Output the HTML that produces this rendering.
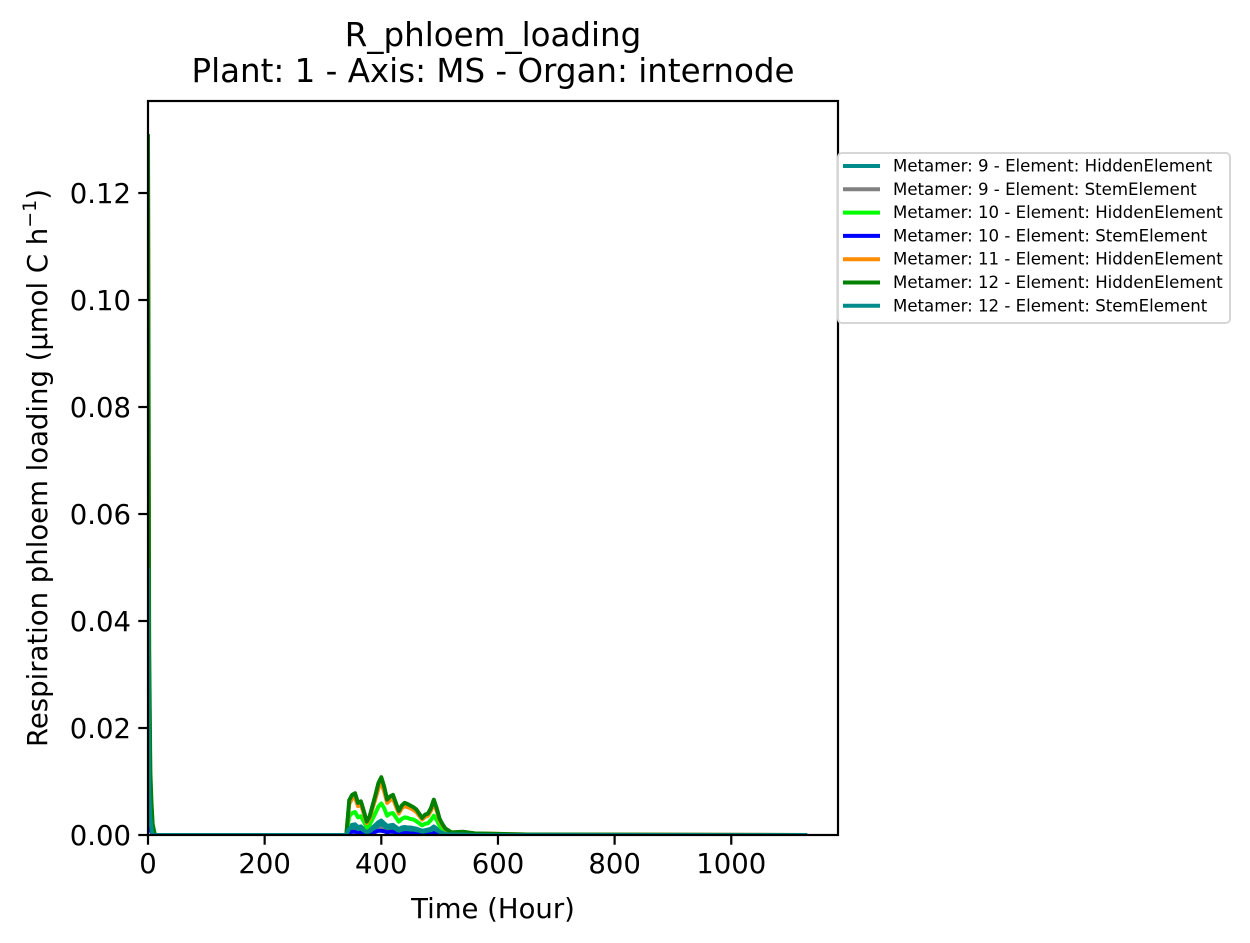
<!DOCTYPE html>
<html><head><meta charset="utf-8"><style>
html,body{margin:0;padding:0;background:#fff;}
svg{display:block;font-family:"DejaVu Sans","Liberation Sans",sans-serif;}
</style></head><body>
<svg id="chart" width="1250" height="943" viewBox="0 0 1250 943" xmlns="http://www.w3.org/2000/svg">
<rect width="1250" height="943" fill="#fff"/>
<text x="493" y="46" font-size="32.5" text-anchor="middle">R_phloem_loading</text>
<text x="493" y="82" font-size="32.5" text-anchor="middle">Plant: 1 - Axis: MS - Organ: internode</text>
<g id="series"></g>
<g id="axes"></g>
<text x="493" y="918" font-size="27.5" text-anchor="middle">Time (Hour)</text>
<text transform="translate(47,468) rotate(-90)" font-size="27.5" text-anchor="middle">Respiration phloem loading (μmol C h<tspan baseline-shift="super" font-size="19">−1</tspan>)</text>
<g id="legend"></g>
</svg>
<script>
const times=[0,2,4,6,8,12,340,345,350,355,360,365,370,375,380,385,390,395,400,405,410,415,420,425,430,435,440,445,450,455,460,465,470,475,480,485,490,495,500,505,510,520,540,560,600,650,1130];
const m9Hidden=[0.06,0.01,0.004,0.002,0,0,0,0.0016,0.0019,0.002,0.0015,0.0016,0.0011,0.0006,0.0009,0.0014,0.0019,0.0024,0.0027,0.0022,0.0017,0.0018,0.0019,0.0015,0.0011,0.0014,0.0015,0.0014,0.0014,0.0013,0.0012,0.001,0.0008,0.0009,0.001,0.0012,0.0016,0.0012,0.0008,0.0005,0.0003,0.0001,0.0001,0.0001,0,0,0];
const m9Stem=[0.03,0.005,0.002,0.001,0,0,0,0.0008,0.0009,0.001,0.0007,0.0008,0.0005,0.0003,0.0004,0.0007,0.0009,0.0012,0.0013,0.0011,0.0008,0.0009,0.0009,0.0007,0.0005,0.0007,0.0007,0.0007,0.0007,0.0006,0.0006,0.0005,0.0004,0.0004,0.0005,0.0006,0.0008,0.0006,0.0004,0.0002,0.0001,0,0,0,0,0,0];
const m10Hidden=[0.11,0.02,0.008,0.004,0.001,0,0,0.0035,0.0041,0.0043,0.0033,0.0035,0.0025,0.0014,0.0019,0.003,0.0041,0.0053,0.0059,0.005,0.0036,0.004,0.0041,0.0033,0.0025,0.003,0.0033,0.0032,0.003,0.0029,0.0026,0.0022,0.0018,0.0021,0.0022,0.0028,0.0036,0.0028,0.0017,0.0011,0.0007,0.0003,0.0003,0.0002,0.0001,0,0];
const m10Stem=[0.02,0.004,0.001,0.0005,0,0,0,0.0005,0.0006,0.0006,0.0005,0.0005,0.0004,0.0002,0.0003,0.0004,0.0006,0.0008,0.0008,0.0007,0.0005,0.0006,0.0006,0.0005,0.0004,0.0004,0.0005,0.0005,0.0004,0.0004,0.0004,0.0003,0.0003,0.0003,0.0003,0.0004,0.0005,0.0004,0.0002,0.0002,0.0001,0,0,0,0,0,0];
const m11Hidden=[0.125,0.03,0.01,0.005,0.001,0,0,0.0058,0.0068,0.007,0.0054,0.0057,0.004,0.0022,0.0031,0.005,0.0068,0.0087,0.0097,0.0081,0.006,0.0065,0.0068,0.0054,0.004,0.005,0.0054,0.0052,0.005,0.0047,0.0043,0.0036,0.0029,0.0034,0.0036,0.0045,0.0059,0.0045,0.0027,0.0018,0.0011,0.0004,0.0005,0.0003,0.0002,0.0001,0];
const m12Hidden=[0.131,0.035,0.012,0.006,0.002,0,0,0.0065,0.0075,0.0078,0.006,0.0063,0.0045,0.0025,0.0035,0.0055,0.0075,0.0097,0.0108,0.009,0.0066,0.0072,0.0075,0.006,0.0045,0.0055,0.006,0.0058,0.0055,0.0052,0.0048,0.004,0.0032,0.0038,0.004,0.005,0.0066,0.005,0.003,0.002,0.0012,0.0005,0.0006,0.0003,0.0002,0.0001,0];
const m12Stem=[0.05,0.008,0.003,0.001,0,0,0,0.0012,0.0014,0.0015,0.0011,0.0012,0.0008,0.0005,0.0007,0.0011,0.0014,0.0018,0.002,0.0017,0.0013,0.0014,0.0014,0.0011,0.0008,0.001,0.0011,0.0011,0.001,0.001,0.0009,0.0008,0.0006,0.0007,0.0008,0.0009,0.0012,0.0009,0.0006,0.0004,0.0002,0.0001,0.0001,0,0,0,0];
const seriesNames=["Metamer: 9 - Element: HiddenElement","Metamer: 9 - Element: StemElement","Metamer: 10 - Element: HiddenElement","Metamer: 10 - Element: StemElement","Metamer: 11 - Element: HiddenElement","Metamer: 12 - Element: HiddenElement","Metamer: 12 - Element: StemElement"];
const seriesColors=["#008b8b","#808080","#00ff00","#0000ff","#ff8c00","#008000","#008b8b"];
const seriesValues=[m9Hidden,m9Stem,m10Hidden,m10Stem,m11Hidden,m12Hidden,m12Stem];
const xTicks=[0,200,400,600,800,1000];
const yTicks=[0,0.02,0.04,0.06,0.08,0.10,0.12];
const yTickLabels=["0.00","0.02","0.04","0.06","0.08","0.10","0.12"];

const NS="http://www.w3.org/2000/svg";
const L=148,R=838,T=101,B=835;
const xMin=0,xMax=1183,yMin=0,yMax=0.1372;
function xs(v){return L+(v-xMin)/(xMax-xMin)*(R-L);}
function ys(v){return B-(v-yMin)/(yMax-yMin)*(B-T);}
function mk(tag,attrs,parent){const e=document.createElementNS(NS,tag);for(const k in attrs)e.setAttribute(k,attrs[k]);parent.appendChild(e);return e;}

const sg=document.getElementById('series');
const clip=mk('clipPath',{id:'clipA'},sg);
mk('rect',{x:L,y:T,width:R-L,height:B-T},clip);
seriesValues.forEach((vals,i)=>{
  const d=vals.map((v,j)=>(j?'L':'M')+xs(times[j]).toFixed(2)+','+ys(v).toFixed(2)).join(' ');
  const p=mk('path',{d:d,fill:'none',stroke:seriesColors[i],'stroke-width':4,'stroke-linejoin':'round','clip-path':'url(#clipA)'},sg);
  
  
});

const ax=document.getElementById('axes');
const frame=mk('rect',{x:L,y:T,width:R-L,height:B-T,fill:'none',stroke:'#000','stroke-width':2.2},ax);


xTicks.forEach(t=>{
  const x=xs(t);
  const tk=mk('line',{x1:x,x2:x,y1:B,y2:B+9.7,stroke:'#000','stroke-width':2.2},ax);
  
  
  const lb=mk('text',{x:x,y:B+38,'font-size':27.5,'text-anchor':'middle'},ax);
  lb.textContent=String(t);
  
  
});
yTicks.forEach((t,i)=>{
  const y=ys(t);
  const tk=mk('line',{x1:L-9.7,x2:L,y1:y,y2:y,stroke:'#000','stroke-width':2.2},ax);
  
  
  const lb=mk('text',{x:L-17,y:y+10,'font-size':27.5,'text-anchor':'end'},ax);
  lb.textContent=yTickLabels[i];
  
  
});

const lg=document.getElementById('legend');
const box=mk('rect',{x:838,y:153,width:392,height:170,rx:4,fill:'#fff',stroke:'#d6d6d6','stroke-width':2},lg);


seriesNames.forEach((n,i)=>{
  const y=166+i*23.3;
  const ln=mk('line',{x1:843,x2:880,y1:y,y2:y,stroke:seriesColors[i],'stroke-width':4},lg);
  
  
  const tx=mk('text',{x:893,y:y+5.5,'font-size':16.6},lg);
  tx.textContent=n;
  
  
});
</script>
</body></html>
